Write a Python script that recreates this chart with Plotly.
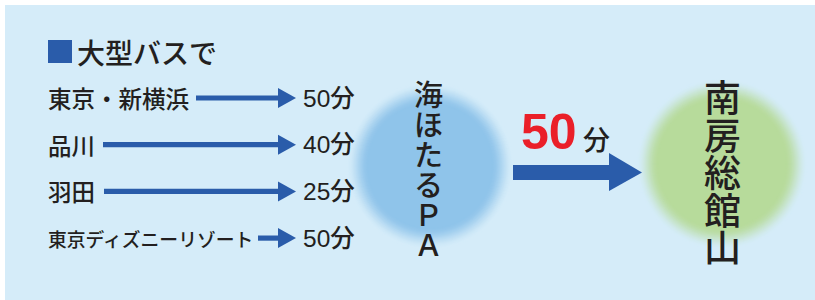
import plotly.graph_objects as go

# ---- data ----
title_text = "大型バスで"
origins = ["東京・新横浜", "品川", "羽田", "東京ディズニーリゾート"]
minutes = [50, 40, 25, 50]
unit = "分"
hub = "海ほたるPA"
hub_chars = ["海", "ほ", "た", "る", "Ｐ", "Ａ"]
dest = "南房総館山"
hub_to_dest_minutes = 50

# ---- styles / layout constants ----
W, H = 815, 300
BG = "#d5ecf9"
BLUE = "#2a5caa"
TXT = "#231f20"
RED = "#ea1f29"
FONT = "Noto Sans CJK JP"
NUMFONT = "Liberation Sans, Noto Sans CJK JP"

row_y0, row_step = 98, 46.7
arrow_starts = [196, 103, 104, 258]
arrow_tip = 296
label_sizes = [23.5, 23.5, 23.5, 18.8]

fig = go.Figure()
shapes = []
ann = []

# background panel
shapes.append(dict(type="rect", x0=5, y0=5, x1=W + 2, y1=H + 2,
                   fillcolor=BG, line=dict(width=0), layer="below"))


def hex2rgb(h):
    h = h.lstrip("#")
    return tuple(int(h[i:i + 2], 16) for i in (0, 2, 4))


def blur_circle(cx, cy, r, color, blur=11, steps=22):
    c1 = hex2rgb(BG)
    c2 = hex2rgb(color)
    for i in range(steps + 1):
        t = i / steps
        rr = r + blur - 2 * blur * t
        s = t * t * (3 - 2 * t)
        col = tuple(round(c1[k] + (c2[k] - c1[k]) * s) for k in range(3))
        shapes.append(dict(type="circle", x0=cx - rr, x1=cx + rr, y0=cy - rr, y1=cy + rr,
                           fillcolor="rgb(%d,%d,%d)" % col, line=dict(width=0), layer="below"))


blur_circle(430, 166, 73, "#8fc4ea")
blur_circle(722, 164, 75, "#b7db9b")

# title with square marker
shapes.append(dict(type="rect", x0=48, x1=72, y0=40, y1=63, fillcolor=BLUE, line=dict(width=0)))
ann.append(dict(x=75, y=52, text=title_text, xanchor="left", yanchor="middle",
                font=dict(family=FONT, size=28, color=TXT, weight=500)))

# rows
for i, (o, m) in enumerate(zip(origins, minutes)):
    y = row_y0 + i * row_step
    ann.append(dict(x=46, y=y, text=o, xanchor="left", yanchor="middle",
                    font=dict(family=FONT, size=label_sizes[i], color=TXT, weight=500)))
    x0 = arrow_starts[i]
    shapes.append(dict(type="rect", x0=x0, x1=arrow_tip - 17, y0=y - 2.6, y1=y + 2.6,
                       fillcolor=BLUE, line=dict(width=0)))
    shapes.append(dict(type="path",
                       path=f"M{arrow_tip - 18},{y - 10} L{arrow_tip},{y} L{arrow_tip - 18},{y + 10} Z",
                       fillcolor=BLUE, line=dict(width=0)))
    ann.append(dict(x=301, y=y, text=f"{m}{unit}", xanchor="left", yanchor="middle",
                    font=dict(family=NUMFONT, size=24.5, color=TXT, weight=500)))

# hub vertical text
for i, ch in enumerate(hub_chars):
    ann.append(dict(x=428, y=93 + i * 30, text=ch, xanchor="center", yanchor="middle",
                    font=dict(family=FONT, size=29, color=TXT, weight=500)))

# destination vertical text
for i, ch in enumerate(dest):
    ann.append(dict(x=722, y=96 + i * 37.6, text=ch, xanchor="center", yanchor="middle",
                    font=dict(family=FONT, size=37, color=TXT, weight=500)))

# big arrow
shapes.append(dict(type="rect", x0=513, x1=610, y0=165, y1=180, fillcolor=BLUE, line=dict(width=0)))
shapes.append(dict(type="path", path="M609,153 L642,172.5 L609,191 Z", fillcolor=BLUE, line=dict(width=0)))

ann.append(dict(x=519, y=132, text=f"<b>{hub_to_dest_minutes}</b>", xanchor="left", yanchor="middle",
                font=dict(family=NUMFONT, size=50, color=RED)))
ann.append(dict(x=581, y=138, text=unit, xanchor="left", yanchor="middle",
                font=dict(family=FONT, size=27, color=TXT, weight=500)))

for a in ann:
    a.update(xref="x", yref="y", showarrow=False)

fig.update_layout(
    width=W, height=H, margin=dict(l=0, r=0, t=0, b=0),
    paper_bgcolor="white", plot_bgcolor="white",
    xaxis=dict(range=[0, W], visible=False, fixedrange=True),
    yaxis=dict(range=[H, 0], visible=False, fixedrange=True),
    shapes=shapes, annotations=ann, showlegend=False,
)
fig.write_html("out.html", config={"displayModeBar": False},
               post_script="document.body.style.margin='0';document.body.style.overflow='hidden';")
